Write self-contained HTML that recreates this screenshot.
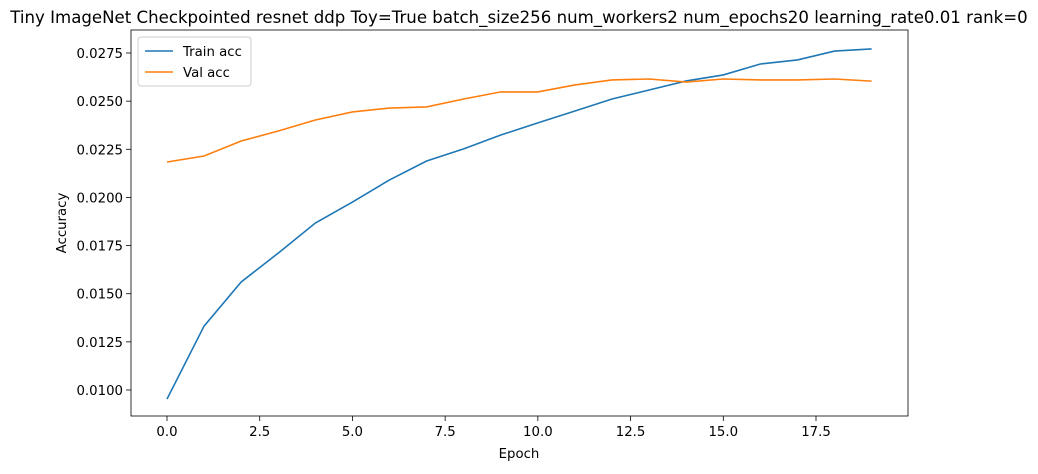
<!DOCTYPE html>
<html><head><meta charset="utf-8"><style>
body{margin:0;background:#fff;font-family:"DejaVu Sans","Liberation Sans",sans-serif;}
svg text{font-family:"DejaVu Sans","Liberation Sans",sans-serif;}
</style></head><body>
<svg id="chart" width="1038" height="470" xmlns="http://www.w3.org/2000/svg"></svg>
<script>
const epochs=[0,1,2,3,4,5,6,7,8,9,10,11,12,13,14,15,16,17,18,19];
const trainAcc=[0.00953,0.01332,0.01561,0.01711,0.01867,0.01976,0.02091,0.02189,0.02252,0.02324,0.02387,0.02449,0.02511,0.02558,0.02605,0.02636,0.02693,0.02714,0.02760,0.02771];
const valAcc=[0.02184,0.02215,0.02293,0.02345,0.02402,0.02444,0.02464,0.02470,0.02511,0.02548,0.02548,0.02584,0.02610,0.02615,0.02599,0.02615,0.02610,0.02610,0.02615,0.02604];
const xTicks=[0,2.5,5,7.5,10,12.5,15,17.5];
const yTicks=[0.0100,0.0125,0.0150,0.0175,0.0200,0.0225,0.0250,0.0275];

const svg=document.getElementById('chart');
const NS='http://www.w3.org/2000/svg';
const L=131,R=908,T=30,B=416;
const x=v=>167+v*(816-167)/17.5;
const y=v=>390-(v-0.0100)/0.0025*(390-53)/7;
function mk(tag,attrs,parent){const e=document.createElementNS(NS,tag);for(const k in attrs)e.setAttribute(k,attrs[k]);(parent||svg).appendChild(e);return e;}

const title=mk('text',{x:519,y:23,'text-anchor':'middle','font-size':16.6,fill:'#000'});
title.textContent='Tiny ImageNet Checkpointed resnet ddp Toy=True batch_size256 num_workers2 num_epochs20 learning_rate0.01 rank=0';



xTicks.forEach(t=>{
  const g=mk('g',{});
  
  
  mk('line',{x1:x(t),x2:x(t),y1:B,y2:B+5,stroke:'#000','stroke-width':0.8},g);
  const tx=mk('text',{x:x(t),y:B+20,'text-anchor':'middle','font-size':13.3},g);tx.textContent=t.toFixed(1);
});
yTicks.forEach(t=>{
  const g=mk('g',{});
  
  
  mk('line',{x1:L-5,x2:L,y1:y(t),y2:y(t),stroke:'#000','stroke-width':0.8},g);
  const tx=mk('text',{x:L-8,y:y(t)+5,'text-anchor':'end','font-size':13.3},g);tx.textContent=t.toFixed(4);
});

const xl=mk('text',{x:519,y:458,'text-anchor':'middle','font-size':13.3});xl.textContent='Epoch';


const yl=mk('text',{x:66,y:223,'text-anchor':'middle','font-size':13.3,transform:'rotate(-90 66 223)'});yl.textContent='Accuracy';



function line(data,color,name){
  const p=mk('polyline',{points:data.map((v,i)=>x(epochs[i])+','+y(v)).join(' '),fill:'none',stroke:color,'stroke-width':1.6});
  
  
}
line(trainAcc,'#1f77b4','train-acc-line');
line(valAcc,'#ff7f0e','val-acc-line');

const frame=mk('rect',{x:L,y:T,width:R-L,height:B-T,fill:'none',stroke:'#000','stroke-width':0.8});



const lg=mk('g',{});


mk('rect',{x:138,y:37,width:113,height:49,rx:3,fill:'#fff',stroke:'#ccc'},lg);
[['Train acc','#1f77b4',51],['Val acc','#ff7f0e',72]].forEach(([n,c,yy])=>{
  const e=mk('g',{},lg);
  
  
  mk('line',{x1:145,x2:173,y1:yy,y2:yy,stroke:c,'stroke-width':1.6},e);
  const t=mk('text',{x:183,y:yy+5,'font-size':13.3},e);t.textContent=n;
});
</script>
</body></html>
